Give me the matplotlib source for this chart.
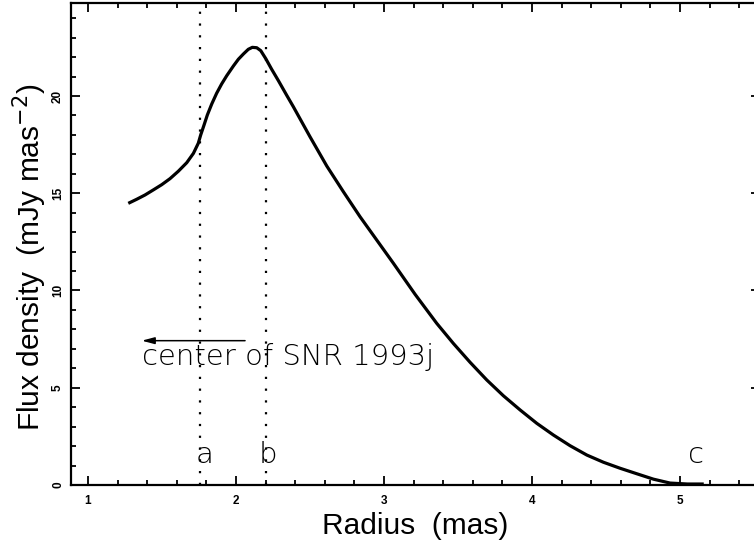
import matplotlib
matplotlib.use("Agg")
from matplotlib import pyplot as plt
from matplotlib.ticker import MultipleLocator

# Radius (mas) and flux density (mJy mas^-2)
radius = [1.272, 1.329, 1.385, 1.441, 1.498, 1.554, 1.610, 1.667, 1.712, 1.745,
          1.761, 1.784, 1.806, 1.836, 1.869, 1.903, 1.937, 1.982, 2.016, 2.05,
          2.083, 2.11, 2.14, 2.167, 2.20, 2.241, 2.286, 2.342, 2.387, 2.5,
          2.613, 2.725, 2.838, 2.95, 3.063, 3.21, 3.356, 3.468, 3.581,
          3.694, 3.806, 3.919, 4.032, 4.144, 4.257, 4.37, 4.482, 4.595, 4.707,
          4.82, 4.932, 5.05, 5.16]
flux = [14.48, 14.69, 14.91, 15.17, 15.44, 15.75, 16.13, 16.57, 17.05, 17.57,
        17.99, 18.51, 19.02, 19.59, 20.14, 20.62, 21.04, 21.54, 21.89, 22.16,
        22.4, 22.5, 22.48, 22.33, 21.93, 21.37, 20.79, 20.04, 19.45, 17.9,
        16.4, 15.08, 13.79, 12.6, 11.4, 9.8, 8.31, 7.28, 6.31,
        5.40, 4.59, 3.86, 3.17, 2.57, 2.02, 1.54, 1.17, 0.86, 0.58,
        0.30, 0.10, 0.05, 0.05]

marker_x = [1.757, 2.20]
labels = ["a", "b", "c"]
label_x = [1.786, 2.218, 5.108]
label_y = 1.12

W, H = 754, 546
fig = plt.figure(figsize=(W / 100, H / 100), dpi=100)
ax = fig.add_axes([71 / W, 61 / H, (760 - 71) / W, (543 - 61) / H])

ax.plot(radius, flux, color="black", lw=2.3, solid_capstyle="butt")
for xm in marker_x:
    ax.axvline(xm, color="black", lw=1.6, linestyle=(0, (1, 4.3)))

note_font = dict(family="DejaVu Sans", weight=200, fontsize=21)
for t, xl in zip(labels, label_x):
    ax.text(xl, label_y, t, ha="center", va="baseline", **note_font)

ax.annotate("", xy=(1.363, 7.42), xytext=(2.061, 7.42),
            arrowprops=dict(arrowstyle="-|>,head_length=0.75,head_width=0.2",
                            color="black", lw=1.1, shrinkA=0, shrinkB=0))
ax.text(1.363, 6.17, "center of SNR 1993j", ha="left", va="baseline", **note_font)

ax.set_xlim(0.885, 5.54)
ax.set_ylim(0, 24.78)
ax.xaxis.set_major_locator(MultipleLocator(1))
ax.xaxis.set_minor_locator(MultipleLocator(0.2))
ax.yaxis.set_major_locator(MultipleLocator(5))
ax.yaxis.set_minor_locator(MultipleLocator(1))
ax.tick_params(which="both", direction="in", top=True, right=True, width=1.3)
ax.tick_params(which="major", length=6.5, pad=7.5)
ax.tick_params(which="minor", length=3.6)
ax.tick_params(axis="y", pad=5)
for lab in ax.get_xticklabels() + ax.get_yticklabels():
    lab.set_family("Liberation Sans")
    lab.set_weight("bold")
    lab.set_fontsize(8.5)
for lab in ax.get_yticklabels():
    lab.set_rotation(90)
    lab.set_va("center")
for s in ax.spines.values():
    s.set_linewidth(1.6)

ax.set_xlabel("Radius  (mas)", fontsize=21.5, family="Liberation Sans", labelpad=3)
ax.set_ylabel("Flux density  (mJy mas$^{-2}$)", fontsize=21.5, family="Liberation Sans",
              labelpad=2.5)
ax.yaxis.label.set_y(0.473)

fig.savefig("out.png", dpi=100)
